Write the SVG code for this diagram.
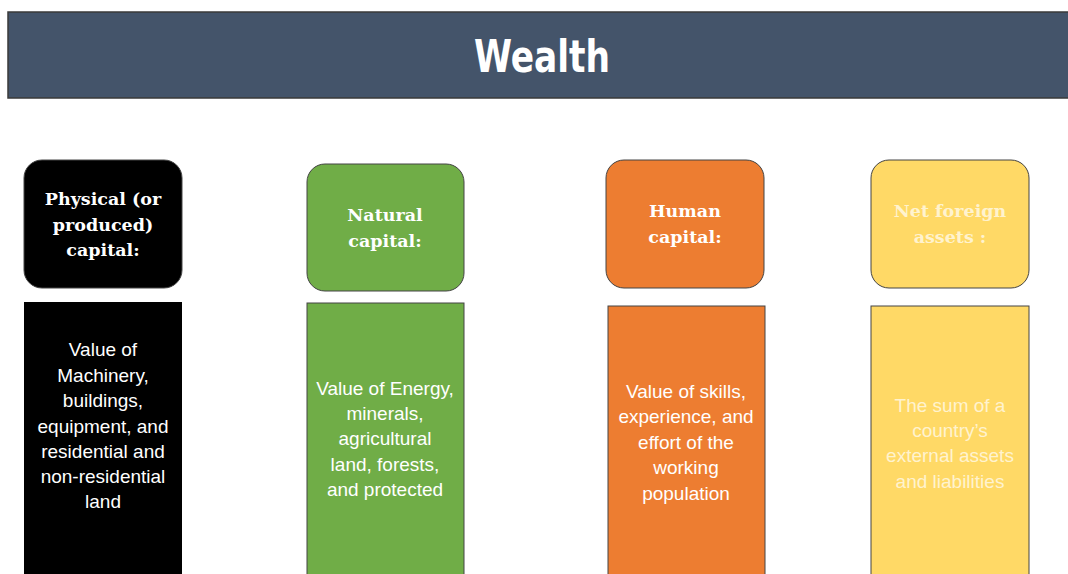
<svg xmlns="http://www.w3.org/2000/svg" width="1068" height="574" viewBox="0 0 1068 574">
<style>
.hd{font-family:"DejaVu Serif","Liberation Serif",serif;font-weight:bold;font-size:17.5px;text-anchor:middle;fill:#fff}
.bd{font-family:"Liberation Sans",Arial,sans-serif;font-size:19px;text-anchor:middle;fill:#fff}
.lt{fill:#FFF3CF}
.box{stroke:#444;stroke-width:1}
</style>
<rect width="1068" height="574" fill="#fff"/>
<g id="title">
<rect x="8" y="12" width="1070" height="86" fill="#44546A" stroke="#3a3a3a" stroke-width="1.5"/>
<text x="542" y="72" font-family="'Liberation Sans Narrow','DejaVu Sans Condensed','DejaVu Sans',sans-serif" font-weight="bold" font-size="45" fill="#fff" text-anchor="middle" textLength="136" lengthAdjust="spacingAndGlyphs">Wealth</text>
</g>
<g id="physical">
<rect class="box" x="24" y="160" width="158" height="128" rx="18" fill="#000"/>
<text class="hd" x="103" y="205">Physical (or</text>
<text class="hd" x="103" y="231">produced)</text>
<text class="hd" x="103" y="256">capital:</text>
</g>
<g id="natural">
<rect class="box" x="307" y="164" width="157" height="127" rx="18" fill="#70AD47"/>
<text class="hd" x="385" y="221">Natural</text>
<text class="hd" x="385" y="247">capital:</text>
</g>
<g id="human">
<rect class="box" x="606" y="160" width="158" height="128" rx="18" fill="#ED7D31"/>
<text class="hd" x="685" y="217">Human</text>
<text class="hd" x="685" y="243">capital:</text>
</g>
<g id="foreign">
<rect class="box" x="871" y="160" width="158" height="128" rx="18" fill="#FFD966"/>
<text class="hd lt" x="950" y="217">Net foreign</text>
<text class="hd lt" x="950" y="243">assets :</text>
</g>
<g id="physical-desc">
<rect x="24" y="302" width="158" height="280" fill="#000"/>
<text class="bd" x="103" y="356">Value of</text>
<text class="bd" x="103" y="382">Machinery,</text>
<text class="bd" x="103" y="407">buildings,</text>
<text class="bd" x="103" y="433">equipment, and</text>
<text class="bd" x="103" y="458">residential and</text>
<text class="bd" x="103" y="483">non-residential</text>
<text class="bd" x="103" y="508">land</text>
</g>
<g id="natural-desc">
<rect class="box" x="307" y="303" width="157" height="280" fill="#70AD47"/>
<text class="bd" x="385" y="395">Value of Energy,</text>
<text class="bd" x="385" y="420">minerals,</text>
<text class="bd" x="385" y="445">agricultural</text>
<text class="bd" x="385" y="471">land, forests,</text>
<text class="bd" x="385" y="496">and protected</text>
</g>
<g id="human-desc">
<rect class="box" x="608" y="306" width="157" height="280" fill="#ED7D31"/>
<text class="bd" x="686" y="398">Value of skills,</text>
<text class="bd" x="686" y="423">experience, and</text>
<text class="bd" x="686" y="449">effort of the</text>
<text class="bd" x="686" y="474">working</text>
<text class="bd" x="686" y="500">population</text>
</g>
<g id="foreign-desc">
<rect class="box" x="871" y="306" width="158" height="280" fill="#FFD966"/>
<text class="bd lt" x="950" y="412">The sum of a</text>
<text class="bd lt" x="950" y="437">country’s</text>
<text class="bd lt" x="950" y="462">external assets</text>
<text class="bd lt" x="950" y="488">and liabilities</text>
</g>
<g id="connectors"></g>
</svg>
